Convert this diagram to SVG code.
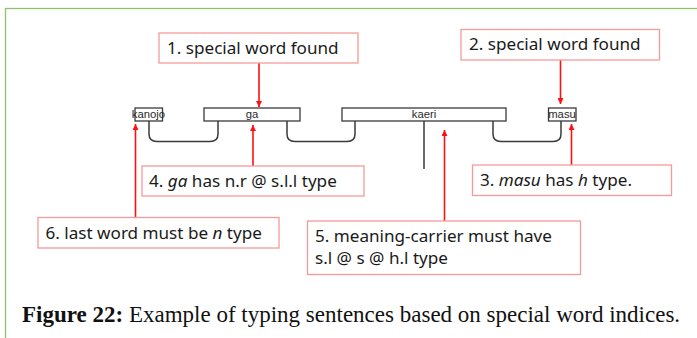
<svg xmlns="http://www.w3.org/2000/svg" width="697" height="338" viewBox="0 0 697 338">
<defs>
<style>
.frame{fill:none;stroke:#8cc36e;stroke-width:1.3}
.call{fill:#fff;stroke:#f59a9a;stroke-width:1.3}
.ct{font-family:"Noto Sans",sans-serif;font-size:17.1px;fill:#1a1a1a}
.wb{fill:#fff;stroke:#3a3a3a;stroke-width:1.3}
.wt{font-family:"Liberation Sans",Arial,sans-serif;font-size:11.3px;fill:#2a2a2a;text-anchor:middle}
.link{fill:none;stroke:#3a3a3a;stroke-width:1.5}
.arr{fill:none;stroke:#ff1010;stroke-width:1.6}
.cap{font-family:"Liberation Serif","Times New Roman",serif;font-size:23px;fill:#111}
</style>
<marker id="ah" viewBox="0 0 10 10" refX="10" refY="5" markerWidth="6" markerHeight="6" orient="auto" markerUnits="userSpaceOnUse">
<path d="M0,0 L10,5 L0,10 z" fill="#ff1010"/>
</marker>
</defs>
<rect x="5.5" y="8.5" width="700" height="340" class="frame"/>

<g id="connectors">
<path class="link" d="M149,121 V134 Q149,141.5 157,141.5 H210 Q218,141.5 218,134 V121"/>
<path class="link" d="M287,121 V134 Q287,141.5 295,141.5 H347 Q355,141.5 355,134 V121"/>
<path class="link" d="M493,121 V134 Q493,141.5 501,141.5 H553 Q561,141.5 561,134 V121"/>
<path class="link" d="M424,121 V169"/>
<path class="arr" d="M259,63 V107" marker-end="url(#ah)"/>
<path class="arr" d="M560.5,60 V104" marker-end="url(#ah)"/>
<path class="arr" d="M253,166 V125" marker-end="url(#ah)"/>
<path class="arr" d="M571.5,165 V124" marker-end="url(#ah)"/>
<path class="arr" d="M444.5,221 V130" marker-end="url(#ah)"/>
<path class="arr" d="M135.5,217 V124" marker-end="url(#ah)"/>
</g>

<g id="w-kanojo"><rect class="wb" x="135" y="108" width="27.5" height="13"/><text class="wt" x="148.5" y="118.3">kanojo</text></g>
<g id="w-ga"><rect class="wb" x="204" y="108" width="96" height="13"/><text class="wt" x="252" y="118.3">ga</text></g>
<g id="w-kaeri"><rect class="wb" x="342" y="108" width="164" height="13"/><text class="wt" x="424" y="118.3">kaeri</text></g>
<g id="w-masu"><rect class="wb" x="548.5" y="108" width="27.5" height="13"/><text class="wt" x="562" y="118.3">masu</text></g>

<g id="c1"><rect class="call" x="159" y="33" width="199" height="30"/><text class="ct" x="167" y="54">1. special word found</text></g>
<g id="c2"><rect class="call" x="461" y="29.5" width="198.5" height="30.5"/><text class="ct" x="469" y="50">2. special word found</text></g>
<g id="c3"><rect class="call" x="472.5" y="165" width="199" height="30.5"/><text class="ct" x="480" y="186">3. <tspan font-style="italic">masu</tspan> has <tspan font-style="italic">h</tspan> type.</text></g>
<g id="c4"><rect class="call" x="142" y="166" width="222" height="30"/><text class="ct" x="149" y="186.5">4. <tspan font-style="italic">ga</tspan> has n.r @ s.l.l type</text></g>
<g id="c6"><rect class="call" x="38" y="217.5" width="241" height="30.5"/><text class="ct" x="45.5" y="238.5">6. last word must be <tspan font-style="italic">n</tspan> type</text></g>
<g id="c5"><rect class="call" x="307.5" y="221" width="273" height="53.5"/><text class="ct" x="315" y="241.5">5. meaning-carrier must have</text><text class="ct" x="315" y="264">s.l @ s @ h.l type</text></g>

<text class="cap" x="22" y="321.5"><tspan font-weight="bold">Figure 22:</tspan> Example of typing sentences based on special word indices.</text>
</svg>
